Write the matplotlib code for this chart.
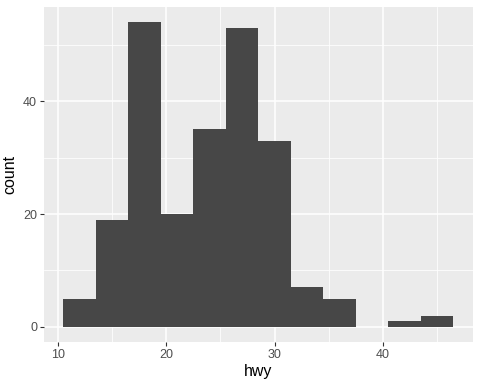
import numpy as np
import matplotlib.pyplot as plt

plt.rcParams['font.family'] = ['Liberation Sans', 'DejaVu Sans']

# histogram of hwy, binwidth 3
bin_edges = [10.5, 13.5, 16.5, 19.5, 22.5, 25.5, 28.5, 31.5, 34.5, 37.5, 40.5, 43.5, 46.5]
counts = [5, 19, 54, 20, 35, 53, 33, 7, 5, 0, 1, 2]

fig = plt.figure(figsize=(4.8, 3.84), dpi=100)
ax = fig.add_axes([0.0917, 0.109, 0.893, 0.873])
ax.set_facecolor('#EBEBEB')

lefts = np.array(bin_edges[:-1])
widths = np.diff(bin_edges)
ax.bar(lefts, counts, width=widths, align='edge', color='#474747', linewidth=0, zorder=3)

xr = bin_edges[-1] - bin_edges[0]
ax.set_xlim(bin_edges[0] - 0.05 * xr, bin_edges[-1] + 0.05 * xr)
ymax = max(counts)
ax.set_ylim(-0.05 * ymax, ymax * 1.05)

ax.set_xticks([10, 20, 30, 40])
ax.set_yticks([0, 20, 40])
ax.set_xticks([15, 25, 35, 45], minor=True)
ax.set_yticks([10, 30, 50], minor=True)
ax.grid(which='major', color='white', linewidth=1.1, zorder=0)
ax.grid(which='minor', color='white', linewidth=0.55, zorder=0)
ax.set_axisbelow(True)

for s in ax.spines.values():
    s.set_visible(False)
ax.tick_params(which='major', length=3, width=0.8, color='#333333',
               labelsize=9, labelcolor='#4D4D4D', pad=2)
ax.tick_params(which='minor', length=0)

ax.set_xlabel('hwy', fontsize=11.5, labelpad=2)
ax.set_ylabel('count', fontsize=11.5, labelpad=4)

fig.savefig('out.png', dpi=100)
